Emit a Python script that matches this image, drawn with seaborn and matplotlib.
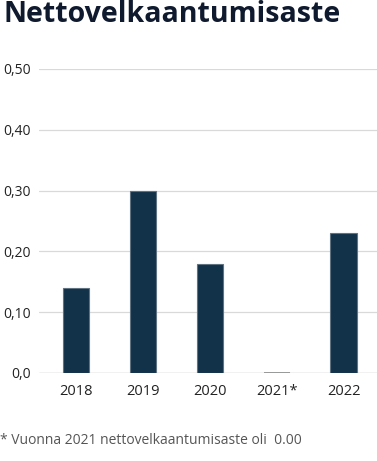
import numpy as np
import pandas as pd
import matplotlib.pyplot as plt
import seaborn as sns

years = ['2018', '2019', '2020', '2021*', '2022']
values = [0.14, 0.30, 0.18, 0.0, 0.23]
yticks = [0.0, 0.1, 0.2, 0.3, 0.4, 0.5]
ylabels = ['0,0', '0,10', '0,20', '0,30', '0,40', '0,50']

df = pd.DataFrame({'year': years, 'value': values})

sns.set_style('white')
plt.rcParams['font.family'] = ['Open Sans', 'DejaVu Sans']

fig = plt.figure(figsize=(3.77, 4.61), dpi=100)
ax = fig.add_axes([39 / 377, 1 - 373 / 461, 338 / 377, 304 / 461])

sns.barplot(data=df, x='year', y='value', color='#12324a', width=0.39,
            edgecolor='#5f7383', linewidth=0.8, saturation=1, ax=ax, zorder=3)

ax.set_xlim(-0.55, 4.5)
ax.set_ylim(0, 0.5)
ax.set_yticks(yticks)
ax.set_yticklabels(ylabels)
ax.yaxis.grid(True, color='#d9d9d9', linewidth=0.9)
ax.set_axisbelow(True)
for s in ax.spines.values():
    s.set_visible(False)
ax.axhline(0, color='#d0d0d0', linewidth=1, zorder=1)
# the 2021 bar is zero, shown as a thin grey line like the original
ax.hlines(0, 3 - 0.195, 3 + 0.195, color='#8a8a8a', linewidth=1.2, zorder=4)
ax.set_xlabel('')
ax.set_ylabel('')
ax.tick_params(axis='both', length=0, colors='#222222')
ax.tick_params(axis='y', pad=6, labelsize=10)
ax.tick_params(axis='x', pad=8, labelsize=10.5)

fig.text(3 / 377, 1 - 14 / 461, 'Nettovelkaantumisaste', fontsize=20.5,
         fontweight='bold', color='#0f1a2e', va='center', ha='left')
fig.text(0, 1 - 440 / 461, '* Vuonna 2021 nettovelkaantumisaste oli  0.00',
         fontsize=10, color='#555555', va='center', ha='left')

fig.savefig('out.png', dpi=100)
